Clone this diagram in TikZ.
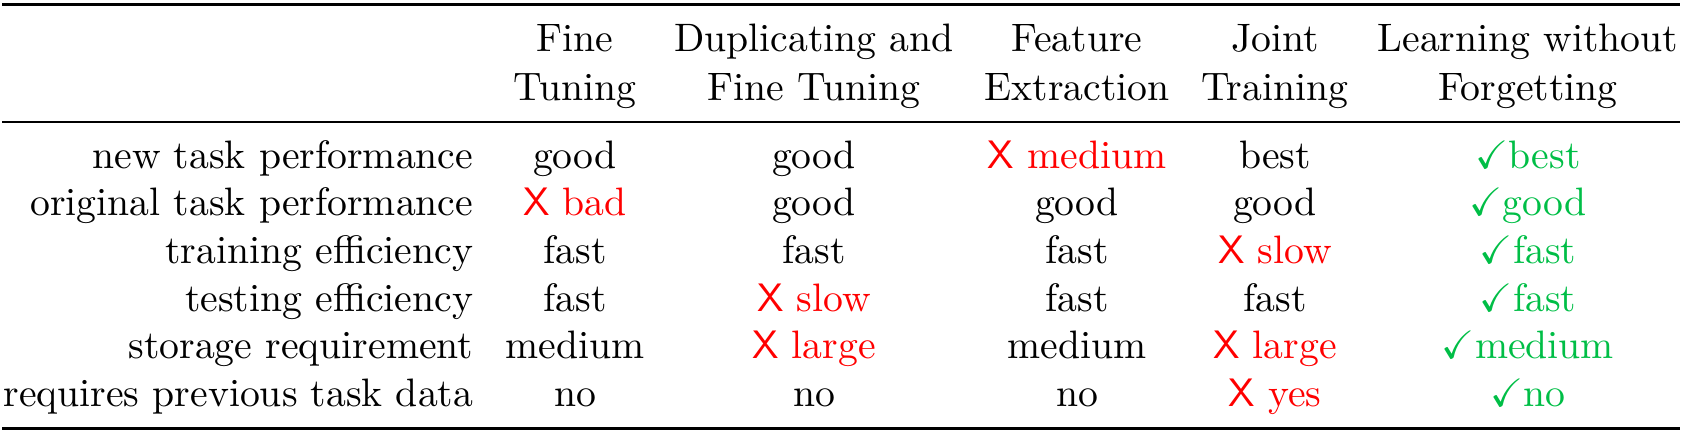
\documentclass[tikz,border=0pt]{standalone}
\usepackage{amssymb}
\usepackage{xcolor}
\definecolor{lwfgreen}{RGB}{0,190,70}
\newcommand{\xbad}[1]{\textcolor{red}{\textsf{X} #1}}
\newcommand{\vgood}[1]{\textcolor{lwfgreen}{$\checkmark$#1}}

\begin{document}
\begin{tikzpicture}[x=0.2519pt, y=-0.2519pt]
  \tikzstyle{cell}=[inner sep=0pt, anchor=base]
  \tikzstyle{rowname}=[inner sep=0pt, anchor=base east]
  \tikzstyle{heavy}=[line width=0.9pt]
  \tikzstyle{light}=[line width=0.55pt]
  \useasboundingbox (0,0) rectangle (1683,435);
% rules
  \coordinate (top-l) at (2,4.7);   \coordinate (top-r) at (1680,4.7);
  \coordinate (mid-l) at (2,121.8); \coordinate (mid-r) at (1680,121.8);
  \coordinate (bot-l) at (2,428.5); \coordinate (bot-r) at (1680,428.5);
  \draw[heavy] (top-l) -- (top-r);
  \draw[light] (mid-l) -- (mid-r);
  \draw[heavy] (bot-l) -- (bot-r);
% header
  \foreach \upper/\lower/\x [count=\j] in {Fine/Tuning/575,
      Duplicating and/Fine Tuning/814, Feature/Extraction/1077,
      Joint/Training/1275, Learning without/Forgetting/1528}
  {
    \node[cell] (head\j a) at (\x,52) {\upper};
    \node[cell] (head\j b) at (\x,100) {\lower};
  }
% body
  \foreach \what/\ft/\dft/\fe/\jt/\lwf [count=\i] in {
      new task performance/good/good/\xbad{medium}/best/\vgood{best},
      original task performance/\xbad{bad}/good/good/good/\vgood{good},
      training efficiency/fast/fast/fast/\xbad{slow}/\vgood{fast},
      testing efficiency/fast/\xbad{slow}/fast/fast/\vgood{fast},
      storage requirement/medium/\xbad{large}/medium/\xbad{large}/\vgood{medium},
      requires previous task data/no/no/no/\xbad{yes}/\vgood{no}}
  {
    \pgfmathsetmacro{\yb}{168.3+47.6*(\i-1)}
    \node[rowname] (row\i)   at (474,\yb)  {\what};
    \node[cell]    (row\i-1) at (575,\yb)  {\ft};
    \node[cell]    (row\i-2) at (814,\yb)  {\dft};
    \node[cell]    (row\i-3) at (1077,\yb) {\fe};
    \node[cell]    (row\i-4) at (1275,\yb) {\jt};
    \node[cell]    (row\i-5) at (1528,\yb) {\lwf};
  }
\end{tikzpicture}
\end{document}
